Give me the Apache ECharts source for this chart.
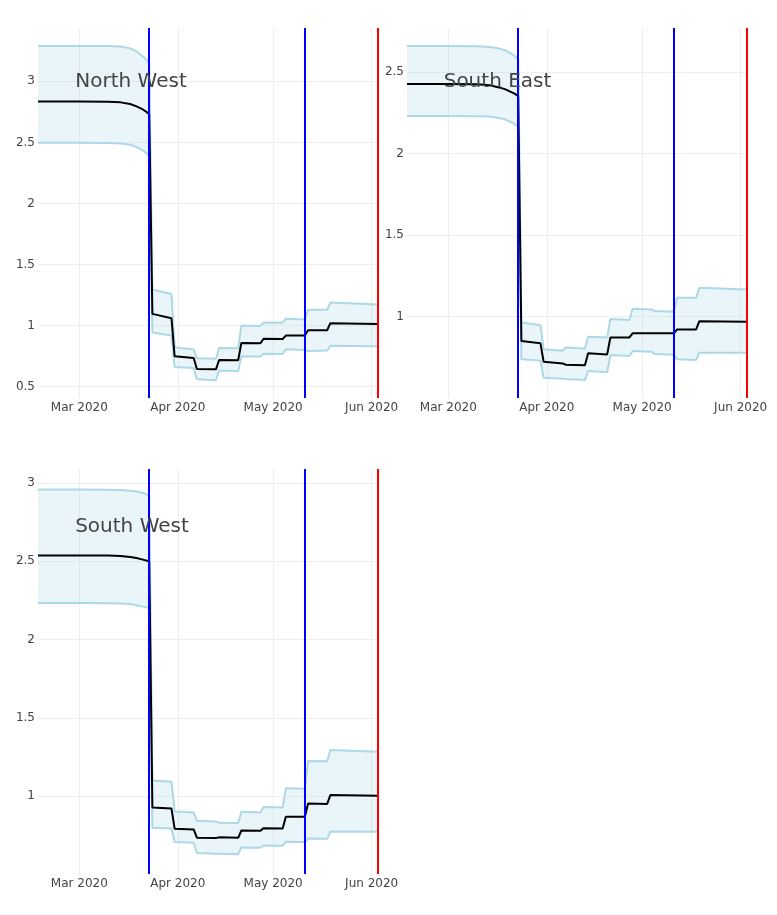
<!DOCTYPE html>
<html>
<head>
<meta charset="utf-8">
<script src="https://cdn.jsdelivr.net/npm/echarts@6/dist/echarts.min.js"></script>
<style>
html,body{margin:0;padding:0;background:#fff;}
#chart{width:777px;height:915px;}
</style>
</head>
<body>
<div id="chart"></div>
<script>
// ---- data ----
const dates = ['2020-02-17','2020-03-01','2020-03-10','2020-03-14','2020-03-17','2020-03-19','2020-03-21','2020-03-22','2020-03-23',
  '2020-03-24','2020-03-30','2020-03-31','2020-04-06','2020-04-07','2020-04-13','2020-04-14','2020-04-20',
  '2020-04-21','2020-04-27','2020-04-28','2020-05-04','2020-05-05','2020-05-11','2020-05-12','2020-05-18',
  '2020-05-19','2020-06-03'];

const regions = ['North West', 'South East', 'South West'];

const nwMean  = [2.836,2.836,2.834,2.828,2.815,2.795,2.77,2.752,2.732, 1.096,1.06,0.748,0.735,0.645,0.642,0.718,0.716,0.858,0.855,0.892,0.89,0.918,0.918,0.962,0.962,1.02,1.013];
const nwUpper = [3.29,3.29,3.289,3.285,3.27,3.245,3.205,3.18,3.15, 1.295,1.258,0.822,0.805,0.732,0.728,0.817,0.815,1.0,0.997,1.026,1.024,1.056,1.05,1.129,1.129,1.19,1.172];
const nwLower = [2.497,2.497,2.496,2.492,2.48,2.462,2.435,2.415,2.39, 0.943,0.918,0.661,0.652,0.56,0.552,0.632,0.626,0.749,0.746,0.77,0.768,0.806,0.8,0.792,0.795,0.835,0.831];

const seMean  = [2.426,2.426,2.425,2.418,2.405,2.393,2.375,2.365,2.352, 0.851,0.837,0.724,0.714,0.706,0.702,0.776,0.769,0.873,0.873,0.898,0.898,0.898,0.898,0.922,0.922,0.973,0.969];
const seUpper = [2.658,2.658,2.657,2.652,2.643,2.632,2.61,2.595,2.575, 0.965,0.948,0.80,0.792,0.812,0.806,0.877,0.873,0.986,0.98,1.049,1.045,1.035,1.031,1.116,1.116,1.177,1.167];
const seLower = [2.23,2.23,2.229,2.226,2.218,2.208,2.19,2.178,2.165, 0.739,0.731,0.626,0.62,0.618,0.612,0.667,0.66,0.765,0.759,0.79,0.786,0.771,0.767,0.739,0.735,0.78,0.78];

const swMean  = [2.537,2.537,2.536,2.533,2.527,2.52,2.51,2.505,2.499, 0.927,0.921,0.791,0.787,0.734,0.732,0.736,0.733,0.78,0.778,0.795,0.793,0.868,0.868,0.953,0.949,1.006,1.002];
const swUpper = [2.958,2.958,2.957,2.955,2.95,2.945,2.936,2.929,2.92, 1.10,1.092,0.902,0.895,0.842,0.838,0.829,0.827,0.9,0.895,0.93,0.926,1.049,1.047,1.224,1.222,1.294,1.283];
const swLower = [2.233,2.233,2.232,2.23,2.226,2.219,2.21,2.205,2.199, 0.797,0.793,0.706,0.702,0.636,0.632,0.632,0.628,0.672,0.67,0.684,0.682,0.708,0.706,0.729,0.727,0.774,0.772];

const eventBlue = ['2020-03-23', '2020-05-11'];
const eventRed = ['2020-06-03'];

const xTicks = ['2020-03-01','2020-04-01','2020-05-01','2020-06-01'];
const yTicks = [[0.5,1,1.5,2,2.5,3],[1,1.5,2,2.5],[1,1.5,2,2.5,3]];
const yRanges = [[0.407,3.437],[0.502,2.769],[0.502,3.089]];
const xRange = ['2020-02-17','2020-06-03'];

// ---- build ----
const ts = d => Date.parse(d);
const monthNames = ['Jan','Feb','Mar','Apr','May','Jun','Jul','Aug','Sep','Oct','Nov','Dec'];
const panels = [
  {mean: nwMean, upper: nwUpper, lower: nwLower},
  {mean: seMean, upper: seUpper, lower: seLower},
  {mean: swMean, upper: swUpper, lower: swLower}
];
const grids = [
  {left: 38, top: 28, width: 340, height: 370},
  {left: 407, top: 28, width: 340, height: 370},
  {left: 38, top: 469, width: 340, height: 405}
];
const titlePos = [[131, 82], [497.5, 82], [132, 527]];
const FONT = '"DejaVu Sans", Verdana, sans-serif';
const BAND_LINE = '#ADD8E6';
const BAND_FILL = 'rgba(173,216,230,0.25)';

const xAxes = [], yAxes = [], series = [], graphics = [];
panels.forEach((p, i) => {
  xAxes.push({
    type: 'value', gridIndex: i, min: ts(xRange[0]), max: ts(xRange[1]),
    axisLine: {show: false}, axisTick: {show: false, customValues: xTicks.map(ts)},
    splitLine: {show: true, lineStyle: {color: '#eeeeee', width: 1}},
    axisLabel: {
      customValues: xTicks.map(ts), margin: 4, color: '#444', fontSize: 12, fontFamily: FONT,
      formatter: v => { const d = new Date(v); return monthNames[d.getUTCMonth()] + ' ' + d.getUTCFullYear(); }
    }
  });
  yAxes.push({
    type: 'value', gridIndex: i, min: yRanges[i][0], max: yRanges[i][1],
    axisLine: {show: false}, axisTick: {show: false, customValues: yTicks[i]},
    splitLine: {show: true, lineStyle: {color: '#eeeeee', width: 1}},
    axisLabel: {customValues: yTicks[i], margin: 3, color: '#444', fontSize: 12, fontFamily: FONT,
      formatter: v => String(v)}
  });
  const bandData = dates.map((d, k) => [ts(d), p.lower[k], p.upper[k]]);
  // filled band between lower and upper
  series.push({
    type: 'custom', xAxisIndex: i, yAxisIndex: i, data: bandData, silent: true, z: 1,
    encode: {x: 0, y: [1, 2]},
    renderItem: (params, api) => {
      if (params.dataIndex !== 0) return null;
      const pts = [];
      bandData.forEach(r => pts.push(api.coord([r[0], r[2]])));
      for (let k = bandData.length - 1; k >= 0; k--) pts.push(api.coord([bandData[k][0], bandData[k][1]]));
      return {type: 'polygon', shape: {points: pts}, style: {fill: BAND_FILL, stroke: null}};
    }
  });
  series.push({
    type: 'line', xAxisIndex: i, yAxisIndex: i, data: dates.map((d, k) => [ts(d), p.lower[k]]),
    symbol: 'none', lineStyle: {color: BAND_LINE, width: 2}, z: 2, silent: true
  });
  series.push({
    type: 'line', xAxisIndex: i, yAxisIndex: i, data: dates.map((d, k) => [ts(d), p.upper[k]]),
    symbol: 'none', lineStyle: {color: BAND_LINE, width: 2}, z: 2, silent: true
  });
  series.push({
    type: 'line', xAxisIndex: i, yAxisIndex: i, data: dates.map((d, k) => [ts(d), p.mean[k]]),
    symbol: 'none', lineStyle: {color: '#000', width: 2}, z: 3, silent: true,
    markLine: {
      silent: true, symbol: ['none', 'none'], label: {show: false}, animation: false,
      data: eventBlue.map(d => ({xAxis: ts(d), lineStyle: {color: '#0000ff', width: 2, type: 'solid'}}))
        .concat(eventRed.map(d => ({xAxis: ts(d), lineStyle: {color: '#ff0000', width: 2, type: 'solid'}})))
    }
  });
  graphics.push({
    type: 'text', x: titlePos[i][0], y: titlePos[i][1], z: 100,
    style: {text: regions[i], fill: '#444', font: '20px ' + FONT, textAlign: 'center', textVerticalAlign: 'middle'}
  });
});

const chart = echarts.init(document.getElementById('chart'), null, {renderer: 'canvas'});
chart.setOption({
  animation: false,
  backgroundColor: '#fff',
  grid: grids,
  xAxis: xAxes,
  yAxis: yAxes,
  series: series,
  graphic: graphics
});
</script>
</body>
</html>
